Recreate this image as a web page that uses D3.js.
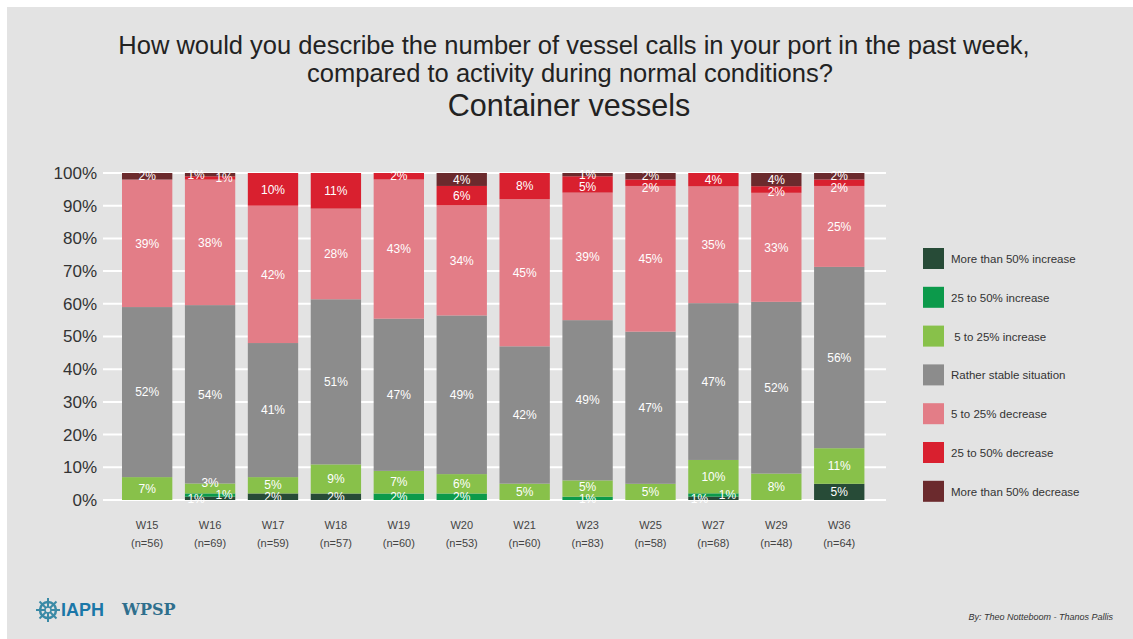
<!DOCTYPE html>
<html>
<head>
<meta charset="utf-8">
<style>
  body { margin: 0; background: #fff; }
  svg { display: block; font-family: "Liberation Sans", Arial, sans-serif; }
</style>
</head>
<body>
<div id="chart"></div>
<script src="https://d3js.org/d3.v7.min.js"></script>
<script>
    // data (percent of respondents)
    const weeks   = ['W15','W16','W17','W18','W19','W20','W21','W23','W25','W27','W29','W36'];
    const samples = [56, 69, 59, 57, 60, 53, 60, 83, 58, 68, 48, 64];
    const seriesNames = ['More than 50% increase', '25 to 50% increase', ' 5 to 25% increase',
                         'Rather stable situation', '5 to 25% decrease', '25 to 50% decrease',
                         'More than 50% decrease'];
    const incMore50 = [0, 1, 2, 2, 0, 0, 0, 0, 0, 1, 0, 5];
    const inc25_50  = [0, 1, 0, 0, 2, 2, 0, 1, 0, 1, 0, 0];
    const inc5_25   = [7, 3, 5, 9, 7, 6, 5, 5, 5, 10, 8, 11];
    const stable    = [52, 54, 41, 51, 47, 49, 42, 49, 47, 47, 52, 56];
    const dec5_25   = [39, 38, 42, 28, 43, 34, 45, 39, 45, 35, 33, 25];
    const dec25_50  = [0, 1, 10, 11, 2, 6, 8, 5, 2, 4, 2, 2];
    const decMore50 = [2, 1, 0, 0, 0, 4, 0, 1, 2, 0, 4, 2];
    const yTicks = [0, 10, 20, 30, 40, 50, 60, 70, 80, 90, 100];
    const colors = ['#274b37', '#0c9a4b', '#88c14a', '#8c8c8c', '#e37d87', '#d9202f', '#6b2a2d'];

    const allSeries = [incMore50, inc25_50, inc5_25, stable, dec5_25, dec25_50, decMore50];
    const keys = d3.range(allSeries.length);
    const rows = weeks.map((w, i) => {
        const r = {week: w, n: samples[i]};
        keys.forEach(k => r[k] = allSeries[k][i]);
        return r;
    });

    const W = 1133, H = 639;
    const svg = d3.select('#chart').append('svg').attr('width', W).attr('height', H);

    svg.append('rect').attr('x', 7).attr('y', 7).attr('width', W - 7).attr('height', H - 7).attr('fill', '#e3e3e3');

    // titles
    svg.append('text').attr('x', 574).attr('y', 54).attr('text-anchor', 'middle')
       .style('font-size', '25.5px').style('fill', '#222')
       .text('How would you describe the number of vessel calls in your port in the past week,');
    svg.append('text').attr('x', 570).attr('y', 82).attr('text-anchor', 'middle')
       .style('font-size', '25.5px').style('fill', '#222')
       .text('compared to activity during normal conditions?');
    svg.append('text').attr('x', 569).attr('y', 116).attr('text-anchor', 'middle')
       .style('font-size', '30.5px').style('fill', '#222')
       .text('Container vessels');

    const x = d3.scaleBand().domain(weeks).range([115.7, 870.7]).paddingInner(0.2).paddingOuter(0.1);
    const y = d3.scaleLinear().domain([0, 100]).range([500, 173]);

    // gridlines
    svg.append('g').selectAll('line').data(yTicks).enter().append('line')
       .attr('x1', 103).attr('x2', 886)
       .attr('y1', d => y(d)).attr('y2', d => y(d))
       .style('stroke', '#fff').style('stroke-width', 2);

    // y axis
    const yAxis = d3.axisLeft(y).tickValues(yTicks).tickSize(0).tickPadding(0).tickFormat(d => d + '%');
    const gy = svg.append('g').attr('transform', 'translate(97,0)').call(yAxis);
    gy.select('.domain').remove();
    gy.selectAll('text').style('font-size', '17px').style('fill', '#333').style('font-family', '"Liberation Sans", Arial, sans-serif');

    // stacked bars, normalised to 100%
    const stack = d3.stack().keys(keys).offset(d3.stackOffsetExpand);
    const layers = stack(rows);

    const g = svg.append('g');
    layers.forEach((layer, k) => {
        g.append('g').selectAll('rect').data(layer).enter().append('rect')
         .attr('x', d => x(d.data.week))
         .attr('width', x.bandwidth())
         .attr('y', d => y(d[1] * 100))
         .attr('height', d => y(d[0] * 100) - y(d[1] * 100))
         .attr('fill', colors[k]);
    });

    // value labels, nudged apart inside each bar
    const labels = [];
    rows.forEach((row, i) => {
        const bar = [];
        keys.forEach(k => {
            const v = row[k];
            if (!v) return;
            const d = layers[k][i];
            let dx = 0;
            const prev = k > 0 ? row[k - 1] : 0;
            const next = k < keys.length - 1 ? row[k + 1] : 0;
            const flip = k >= 4 ? -1 : 1;
            if (v <= 1 && prev > 0 && prev <= 1) dx = 14 * flip;
            else if (v <= 1 && next > 0 && next <= 1) dx = -14 * flip;
            bar.push({x: x(row.week) + x.bandwidth() / 2 + dx, dx: dx, y: y((d[0] + d[1]) * 50), v: v});
        });
        const gap = 12;
        // lower half: push upward from the bottom
        const low = bar.filter(b => b.y > y(50)).sort((a, b) => b.y - a.y);
        for (let j = 1; j < low.length; j++) {
            if (Math.abs(low[j].dx - low[j - 1].dx) < 24 && low[j - 1].y - low[j].y < gap) low[j].y = low[j - 1].y - gap;
            if (low[j].dx === 0 && j > 1 && low[j - 2].dx !== 0 && low[j - 2].y - low[j].y < gap) low[j].y = low[j - 2].y - gap;
        }
        // upper half: push downward from the top
        const up = bar.filter(b => b.y <= y(50)).sort((a, b) => a.y - b.y);
        for (let j = 1; j < up.length; j++) {
            if (Math.abs(up[j].dx - up[j - 1].dx) < 24 && up[j].y - up[j - 1].y < gap) up[j].y = up[j - 1].y + gap;
            if (up[j].dx === 0 && j > 1 && up[j - 2].dx !== 0 && up[j].y - up[j - 2].y < gap) up[j].y = up[j - 2].y + gap;
        }
        labels.push(...bar);
    });
    g.append('g').selectAll('text').data(labels).enter().append('text')
     .attr('x', d => d.x).attr('y', d => d.y).attr('dy', '0.35em')
     .attr('text-anchor', 'middle')
     .style('font-size', '12px').style('fill', '#fff')
     .text(d => d.v + '%');

    // x labels
    const xl = svg.append('g').selectAll('text').data(rows).enter().append('text')
       .attr('text-anchor', 'middle').style('font-size', '11px').style('fill', '#444')
       .attr('x', d => x(d.week) + x.bandwidth() / 2);
    xl.append('tspan').attr('x', d => x(d.week) + x.bandwidth() / 2).attr('y', 529).text(d => d.week);
    xl.append('tspan').attr('x', d => x(d.week) + x.bandwidth() / 2).attr('y', 547).text(d => '(n=' + d.n + ')');

    // legend
    const lg = svg.append('g').selectAll('g').data(seriesNames).enter().append('g')
       .attr('transform', (d, i) => 'translate(923,' + (248 + i * 38.8) + ')');
    lg.append('rect').attr('width', 21).attr('height', 21).attr('fill', (d, i) => colors[i]);
    lg.append('text').attr('x', 28).attr('y', 11).attr('dy', '0.35em')
      .style('font-size', '11.5px').style('fill', '#333').style('white-space', 'pre')
      .attr('xml:space', 'preserve')
      .text(d => d);

    // footer
    svg.append('text').attr('x', 1113).attr('y', 620).attr('text-anchor', 'end')
       .style('font-size', '9px').style('font-style', 'italic').style('fill', '#333')
       .text('By: Theo Notteboom - Thanos Pallis');

    // logos (text)
    const logo = svg.append('g').attr('transform', 'translate(48,610)');
    logo.append('circle').attr('r', 8).attr('fill', 'none').attr('stroke', '#3a8aa6').attr('stroke-width', 2.5);
    d3.range(8).forEach(i => {
        const a = i * Math.PI / 4;
        logo.append('line').attr('x1', 0).attr('y1', 0)
            .attr('x2', Math.cos(a) * 12).attr('y2', Math.sin(a) * 12)
            .attr('stroke', '#3a8aa6').attr('stroke-width', 2);
    });
    logo.append('circle').attr('r', 3).attr('fill', '#e3e3e3').attr('stroke', '#3a8aa6').attr('stroke-width', 1.5);
    svg.append('text').attr('x', 61).attr('y', 616).style('font-size', '18px').style('font-weight', 'bold')
       .style('fill', '#1b77a8').text('IAPH');
    svg.append('text').attr('x', 122).attr('y', 615).style('font-size', '16px').style('font-weight', 'bold')
       .style('font-family', '"DejaVu Serif", serif').style('fill', '#2f6f8d').text('WPSP');
</script>
</body>
</html>
